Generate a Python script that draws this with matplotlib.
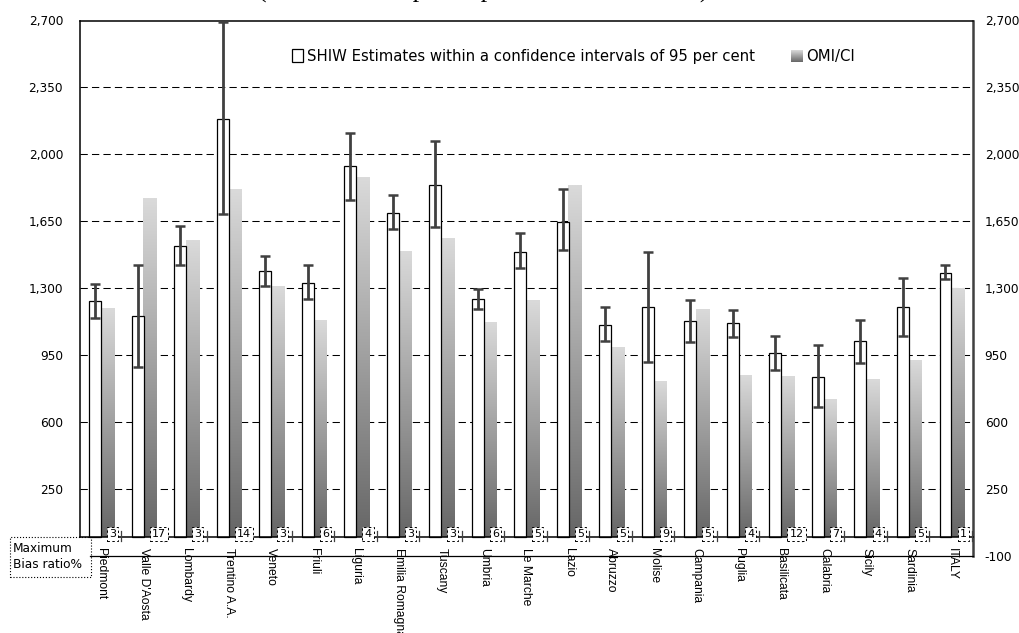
import numpy as np
import matplotlib
matplotlib.use("Agg")
import matplotlib.pyplot as plt
from matplotlib.colors import LinearSegmentedColormap
from matplotlib.patches import Rectangle

# regions, SHIW estimate with 95% interval, OMI/CI value, max bias ratio (%)
regions = ["Piedmont", "Valle D'Aosta", "Lombardy", "Trentino A.A.", "Veneto",
           "Friuli", "Liguria", "Emilia Romagna", "Tuscany", "Umbria",
           "Le Marche", "Lazio", "Abruzzo", "Molise", "Campania", "Puglia",
           "Basilicata", "Calabria", "Sicily", "Sardinia", "ITALY"]
shiw = [1233, 1153, 1522, 2187, 1388, 1330, 1938, 1696, 1841, 1243,
        1489, 1646, 1107, 1202, 1128, 1116, 960, 837, 1022, 1200, 1381]
ci_low = [1142, 886, 1419, 1687, 1311, 1242, 1764, 1611, 1618, 1191,
          1405, 1499, 1024, 914, 1019, 1046, 872, 678, 911, 1052, 1346]
ci_high = [1322, 1421, 1625, 2692, 1468, 1419, 2114, 1785, 2069, 1296,
           1588, 1818, 1202, 1489, 1238, 1186, 1050, 1001, 1132, 1351, 1419]
omi = [1195, 1770, 1552, 1816, 1311, 1134, 1879, 1494, 1562, 1123,
       1238, 1839, 993, 815, 1191, 845, 841, 719, 824, 923, 1299]
bias = [3, 17, 3, 14, 3, 6, 4, 3, 3, 6, 5, 5, 5, 9, 5, 4, 12, 7, 4, 5, 1]

W, H = 1019, 633
fig = plt.figure(figsize=(W / 100, H / 100), dpi=100)
fx = lambda x: x / W
fy = lambda y: 1 - y / H

L, R, T, B = 80, 972.7, 20.5, 556
ax = fig.add_axes([fx(L), fy(B), fx(R) - fx(L), fy(T) - fy(B)])
n = len(regions)
x = np.arange(n)
shiw = np.array(shiw)
lo = np.array(ci_low)
hi = np.array(ci_high)

ticks = np.arange(250, 2701, 350)
for t in ticks[:-1]:
    ax.axhline(t, color="black", lw=0.75, ls=(0, (7, 4)), zorder=1)

# white SHIW bars + confidence intervals
wl, ww = 0.219, 0.282
ax.bar(x + wl, shiw, width=ww, align="edge", color="white",
       edgecolor="black", lw=0.9, zorder=3)
ax.errorbar(x + wl + ww / 2, shiw, yerr=[shiw - lo, hi - shiw], fmt="none",
            ecolor="#404040", elinewidth=2, capsize=3.3, capthick=1.8, zorder=5)

# gradient OMI bars
cmap = LinearSegmentedColormap.from_list("g", ["#666666", "#dadada"])
grad = np.linspace(0, 1, 256).reshape(-1, 1)
gl, gw = 0.487, 0.313
for i, v in enumerate(omi):
    ax.imshow(grad, extent=(i + gl, i + gl + gw, 0, v), aspect="auto",
              cmap=cmap, vmin=0, vmax=1, origin="lower", zorder=2)

ax.set_xlim(0, n)
ax.set_ylim(-100, 2700)
ax.plot([0, n], [0, 0], color="black", lw=1.1, zorder=4, clip_on=False)

# bias ratio labels
for i, b in enumerate(bias):
    ax.plot([i + 0.976] * 2, [-20, 30], color="#404040", lw=0.9, zorder=4)
    ax.text(i + 0.69, 15, str(b), ha="left", va="center", fontsize=8, zorder=6,
            bbox=dict(boxstyle="square,pad=0.18", fc="white", ec="black",
                      ls=(0, (2.5, 2.5)), lw=0.7))
    ax.text(i + 0.5, -57, regions[i], rotation=-90, ha="center", va="top",
            fontsize=8.7, family="Liberation Sans")

for s in ["left", "top"]:
    ax.spines[s].set_linewidth(1.1)
ax.spines["left"].set_bounds(0, 2700)
ax.spines["bottom"].set_bounds(10 / 42.5, n)
ax.spines["bottom"].set_linewidth(0.9)
ax.spines["right"].set_linewidth(1.8)
ax.spines["right"].set_color("#404040")

fmt = lambda v: f"{v:,}"
ax.set_xticks([])
ax.set_yticks(ticks)
ax.set_yticklabels([fmt(t) for t in ticks])
ax.tick_params(axis="y", length=0, pad=12.2, labelsize=8.7)

ax2 = ax.twinx()
ax2.set_ylim(-100, 2700)
rt = np.arange(-100, 2701, 350)
ax2.set_yticks(rt)
ax2.set_yticklabels([fmt(t) for t in rt])
ax2.tick_params(axis="y", length=0, pad=8.6, labelsize=8.7)
for s in ax2.spines.values():
    s.set_visible(False)

# legend
fig.patches.append(Rectangle((fx(292), fy(62)), fx(303) - fx(292), fy(49) - fy(62),
                             transform=fig.transFigure, fc="white", ec="black", lw=0.9))
fig.text(fx(307), fy(56), "SHIW Estimates within a confidence intervals of 95 per cent",
         va="center", ha="left", fontsize=10.7)
lax = fig.add_axes([fx(791), fy(62), fx(12), fy(50) - fy(62)])
lax.imshow(grad, aspect="auto", cmap=cmap, vmin=0, vmax=1, origin="lower")
lax.axis("off")
fig.text(fx(806), fy(56), "OMI/CI", va="center", ha="left", fontsize=10.7)

# row header box
fig.patches.append(Rectangle((fx(10), fy(577)), fx(90.7) - fx(10), fy(537) - fy(577),
                             transform=fig.transFigure, fill=False, ec="black",
                             ls=":", lw=0.8))
fig.text(fx(13), fy(556.5), "Maximum\nBias ratio%", va="center", ha="left",
         fontsize=8.7, linespacing=1.3)

# title, cut off at the top edge as in the source
fig.text(fx(483), fy(-2.5), "(current house prices per m2 in 2008 euros)", ha="center",
         va="baseline", family="Liberation Serif", fontsize=18.5)

fig.savefig("out.png", dpi=100)
